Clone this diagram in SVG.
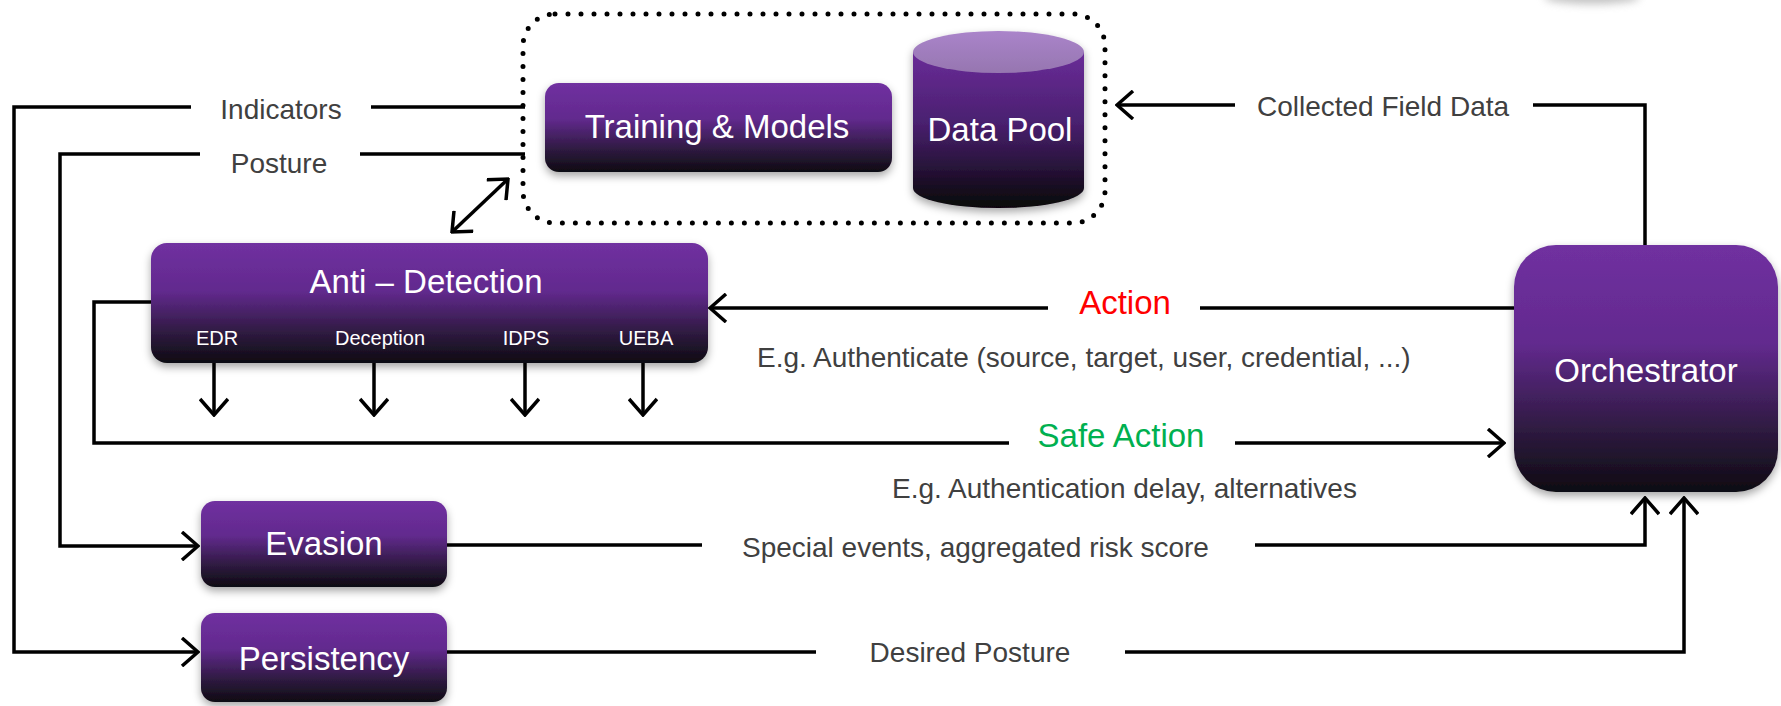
<svg xmlns="http://www.w3.org/2000/svg" width="1781" height="706" viewBox="0 0 1781 706">
<style>
.lbl{font-family:"Liberation Sans",Arial,sans-serif;font-size:28px;fill:#404040}
.ttl{font-family:"Liberation Sans",Arial,sans-serif;font-size:33px;fill:#ffffff;text-anchor:middle}
.sub{font-family:"Liberation Sans",Arial,sans-serif;font-size:20px;fill:#ffffff;text-anchor:middle}
.ln{fill:none;stroke:#000;stroke-width:3.5}
.box{fill:url(#g);filter:url(#sh)}
</style>
<defs>
<linearGradient id="g" x1="0" y1="0" x2="0" y2="1">
<stop offset="0" stop-color="#7030A0"/>
<stop offset="0.4" stop-color="#622A8E"/>
<stop offset="0.75" stop-color="#2E1A40"/>
<stop offset="1" stop-color="#0E0B12"/>
</linearGradient>
<linearGradient id="gc" x1="0" y1="0" x2="0" y2="1">
<stop offset="0" stop-color="#6A2C98"/>
<stop offset="0.45" stop-color="#4A2070"/>
<stop offset="1" stop-color="#080608"/>
</linearGradient>
<linearGradient id="gt" x1="0" y1="0" x2="0" y2="1">
<stop offset="0" stop-color="#AA84CA"/>
<stop offset="1" stop-color="#9676B0"/>
</linearGradient>
<filter id="sh" x="-10%" y="-10%" width="120%" height="130%">
<feDropShadow dx="0" dy="4" stdDeviation="4" flood-color="#000" flood-opacity="0.35"/>
</filter>
<filter id="bl" x="-50%" y="-100%" width="200%" height="300%"><feGaussianBlur stdDeviation="4"/></filter>
<marker id="a" viewBox="0 0 20 30" refX="18" refY="15" markerWidth="20" markerHeight="30" markerUnits="userSpaceOnUse" orient="auto-start-reverse">
<path d="M2,1 L18,15 L2,29" fill="none" stroke="#000" stroke-width="3.5"/>
</marker>
</defs>

<ellipse cx="1592" cy="-3" rx="48" ry="7" fill="#999" opacity="0.6" filter="url(#bl)"/>

<g id="group-box">
<rect x="523" y="14" width="582" height="209" rx="32" fill="none" stroke="#000" stroke-width="5" stroke-linecap="round" stroke-dasharray="0 13"/>
</g>

<g id="connectors">
<path class="ln" d="M525,107 H371 M191,107 H14 V652 H198" marker-end="url(#a)"/>
<path class="ln" d="M525,154 H360 M200,154 H60 V546 H198" marker-end="url(#a)"/>
<path class="ln" d="M1645,246 V105 H1533 M1235,105 H1117" marker-end="url(#a)"/>
<path class="ln" d="M1514,308 H1200 M1048,308 H710" marker-end="url(#a)"/>
<path class="ln" d="M151,302 H94 V443 H1009 M1235,443 H1504" marker-end="url(#a)"/>
<path class="ln" d="M447,545 H702 M1255,545 H1645 V498" marker-end="url(#a)"/>
<path class="ln" d="M447,652 H816 M1125,652 H1684 V498" marker-end="url(#a)"/>
<path class="ln" d="M214,363 V415" marker-end="url(#a)"/>
<path class="ln" d="M374,363 V415" marker-end="url(#a)"/>
<path class="ln" d="M525,363 V415" marker-end="url(#a)"/>
<path class="ln" d="M643,363 V415" marker-end="url(#a)"/>
<path class="ln" d="M452,232 L508,179" stroke-width="4.5" marker-start="url(#a)" marker-end="url(#a)"/>
</g>

<g id="labels">
<text class="lbl" x="281" y="119" text-anchor="middle">Indicators</text>
<text class="lbl" x="279" y="173" text-anchor="middle">Posture</text>
<text class="lbl" x="1383" y="116" text-anchor="middle">Collected Field Data</text>
<text x="1125" y="314" text-anchor="middle" style="font-family:'Liberation Sans',Arial,sans-serif;font-size:33px;fill:#FF0000">Action</text>
<text class="lbl" x="757" y="367">E.g. Authenticate (source, target, user, credential, ...)</text>
<text x="1121" y="447" text-anchor="middle" style="font-family:'Liberation Sans',Arial,sans-serif;font-size:33px;fill:#00B050">Safe Action</text>
<text class="lbl" x="892" y="498">E.g. Authentication delay, alternatives</text>
<text class="lbl" x="742" y="557">Special events, aggregated risk score</text>
<text class="lbl" x="970" y="662" text-anchor="middle">Desired Posture</text>
</g>

<g id="training">
<rect class="box" x="545" y="83" width="347" height="89" rx="14"/>
<text class="ttl" x="717" y="138">Training &amp; Models</text>
</g>

<g id="datapool">
<g filter="url(#sh)">
<path d="M913,52 V188 A85.5,20 0 0 0 1084,188 V52 Z" fill="url(#gc)"/>
<ellipse cx="998.5" cy="52" rx="85.5" ry="21" fill="url(#gt)"/>
</g>
<text class="ttl" x="1000" y="141">Data Pool</text>
</g>

<g id="antidetection">
<rect class="box" x="151" y="243" width="557" height="120" rx="16"/>
<text class="ttl" x="426" y="293">Anti – Detection</text>
<text class="sub" x="217" y="345">EDR</text>
<text class="sub" x="380" y="345">Deception</text>
<text class="sub" x="526" y="345">IDPS</text>
<text class="sub" x="646" y="345">UEBA</text>
</g>

<g id="orchestrator">
<rect class="box" x="1514" y="245" width="264" height="247" rx="42"/>
<text class="ttl" x="1646" y="382">Orchestrator</text>
</g>

<g id="evasion">
<rect class="box" x="201" y="501" width="246" height="86" rx="14"/>
<text class="ttl" x="324" y="555">Evasion</text>
</g>

<g id="persistency">
<rect class="box" x="201" y="613" width="246" height="89" rx="14"/>
<text class="ttl" x="324" y="670">Persistency</text>
</g>
</svg>
